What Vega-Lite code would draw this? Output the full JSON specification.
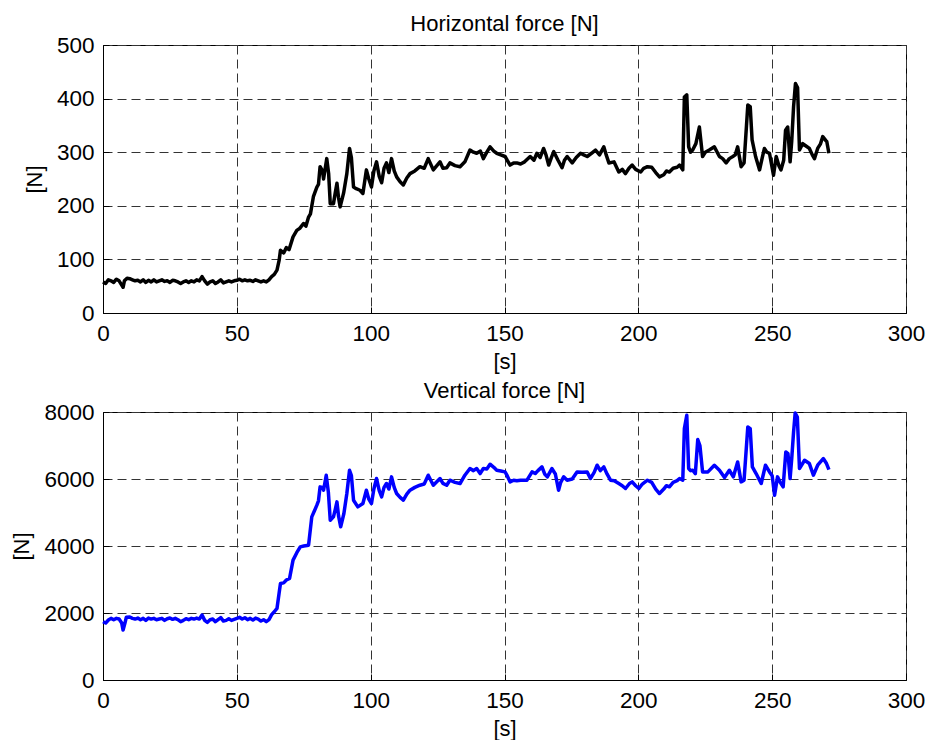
{
  "$schema": "https://vega.github.io/schema/vega-lite/v6.json",
  "background": "white",
  "padding": {"left": 10, "top": 12, "right": 0, "bottom": 0},
  "spacing": 99,
  "bounds": "flush",
  "config": {
    "font": "Liberation Sans",
    "view": {"stroke": "black", "strokeWidth": 1},
    "axis": {
      "labelFont": "Liberation Sans",
      "titleFont": "Liberation Sans",
      "labelFontSize": 22.5,
      "labelColor": "black",
      "titleFontSize": 22,
      "titleFontWeight": "normal",
      "titleColor": "black",
      "domainColor": "black",
      "tickColor": "black",
      "tickSize": -6,
      "labelPadding": 15,
      "labelFlush": false,
      "labelOverlap": false,
      "grid": true,
      "gridColor": "#333333",
      "gridDash": [9, 5],
      "gridOpacity": 1,
      "gridWidth": 1
    },
    "title": {"font": "Liberation Sans", "fontSize": 22, "fontWeight": "normal", "color": "black", "offset": -2, "anchor": "middle"}
  },
  "datasets": {
    "horizontal": [
      {"t":0,"f":58},{"t":1,"f":55},{"t":2,"f":62},{"t":3,"f":60},{"t":4,"f":57},{"t":5,"f":63},{"t":6,"f":60},{"t":7,"f":52},{"t":7.5,"f":48},{"t":8,"f":60},{"t":9,"f":65},{"t":10,"f":64},{"t":11,"f":62},{"t":12,"f":60},{"t":13,"f":61},{"t":14,"f":58},{"t":15,"f":62},{"t":16,"f":57},{"t":17,"f":61},{"t":18,"f":58},{"t":19,"f":62},{"t":20,"f":58},{"t":21,"f":60},{"t":22,"f":62},{"t":23,"f":59},{"t":24,"f":60},{"t":25,"f":57},{"t":26,"f":61},{"t":27,"f":60},{"t":28,"f":58},{"t":29,"f":55},{"t":30,"f":58},{"t":31,"f":60},{"t":32,"f":57},{"t":33,"f":60},{"t":34,"f":58},{"t":35,"f":62},{"t":36,"f":60},{"t":37,"f":68},{"t":38,"f":60},{"t":39,"f":54},{"t":40,"f":58},{"t":41,"f":60},{"t":42,"f":55},{"t":43,"f":58},{"t":44,"f":62},{"t":45,"f":56},{"t":46,"f":58},{"t":47,"f":60},{"t":48,"f":58},{"t":49,"f":60},{"t":50,"f":61},{"t":51,"f":63},{"t":52,"f":60},{"t":53,"f":62},{"t":54,"f":60},{"t":55,"f":61},{"t":56,"f":59},{"t":57,"f":62},{"t":58,"f":60},{"t":59,"f":58},{"t":60,"f":60},{"t":61,"f":58},{"t":62,"f":62},{"t":63,"f":68},{"t":64,"f":72},{"t":65,"f":80},{"t":65.8,"f":98},{"t":66.3,"f":117},{"t":67.5,"f":112},{"t":68.5,"f":122},{"t":69.5,"f":118},{"t":71,"f":142},{"t":72.4,"f":154},{"t":73.5,"f":158},{"t":74.9,"f":167},{"t":75.8,"f":162},{"t":76.8,"f":179},{"t":77.5,"f":185},{"t":78.6,"f":217},{"t":79.9,"f":235},{"t":80.5,"f":240},{"t":81.1,"f":273},{"t":82,"f":265},{"t":82.4,"f":250},{"t":83.6,"f":288},{"t":84.3,"f":260},{"t":84.9,"f":204},{"t":86.1,"f":204},{"t":86.8,"f":225},{"t":87.4,"f":242},{"t":88,"f":215},{"t":88.6,"f":198},{"t":89.9,"f":224},{"t":91.1,"f":260},{"t":92.1,"f":307},{"t":92.8,"f":290},{"t":93.6,"f":235},{"t":94.6,"f":232},{"t":96,"f":229},{"t":97.1,"f":223},{"t":98.4,"f":267},{"t":99.3,"f":250},{"t":100.3,"f":235},{"t":101.2,"f":265},{"t":102.2,"f":282},{"t":103.2,"f":255},{"t":104.1,"f":243},{"t":105,"f":270},{"t":105.9,"f":280},{"t":106.8,"f":262},{"t":107.8,"f":288},{"t":108.8,"f":265},{"t":109.7,"f":254},{"t":111,"f":245},{"t":112.2,"f":239},{"t":113.5,"f":252},{"t":114.7,"f":260},{"t":116.5,"f":265},{"t":118.4,"f":273},{"t":120,"f":270},{"t":121.5,"f":288},{"t":123.4,"f":267},{"t":125.9,"f":282},{"t":127,"f":270},{"t":128.4,"f":271},{"t":129.6,"f":280},{"t":131.5,"f":275},{"t":133.4,"f":273},{"t":135.2,"f":282},{"t":137.1,"f":304},{"t":138.4,"f":300},{"t":139.6,"f":298},{"t":141,"f":302},{"t":142.1,"f":288},{"t":143.4,"f":300},{"t":144.6,"f":310},{"t":146,"f":302},{"t":147.1,"f":298},{"t":148.6,"f":295},{"t":150.2,"f":292},{"t":151,"f":285},{"t":152.1,"f":276},{"t":153.4,"f":280},{"t":154.6,"f":280},{"t":156,"f":278},{"t":157.5,"f":282},{"t":159.6,"f":292},{"t":161,"f":285},{"t":162.1,"f":298},{"t":163.3,"f":290},{"t":164.6,"f":307},{"t":165.5,"f":295},{"t":166.5,"f":276},{"t":167.5,"f":290},{"t":168.4,"f":301},{"t":170,"f":285},{"t":171.5,"f":271},{"t":172.4,"f":285},{"t":173.4,"f":292},{"t":175.3,"f":280},{"t":176.8,"f":290},{"t":178.4,"f":298},{"t":179.6,"f":295},{"t":180.9,"f":292},{"t":182.5,"f":298},{"t":184,"f":304},{"t":185.5,"f":295},{"t":187.1,"f":310},{"t":188,"f":295},{"t":189,"f":280},{"t":190.9,"f":282},{"t":192.7,"f":263},{"t":194,"f":268},{"t":195.2,"f":260},{"t":196.5,"f":270},{"t":197.7,"f":276},{"t":199,"f":268},{"t":200.9,"f":263},{"t":202,"f":270},{"t":203.4,"f":273},{"t":205,"f":272},{"t":206.5,"f":262},{"t":207.9,"f":254},{"t":209.5,"f":258},{"t":210.5,"f":265},{"t":211.6,"f":263},{"t":213,"f":270},{"t":214.5,"f":272},{"t":215.4,"f":276},{"t":216.6,"f":267},{"t":217.2,"f":403},{"t":218.1,"f":407},{"t":218.8,"f":310},{"t":219.5,"f":300},{"t":220.3,"f":304},{"t":221.5,"f":316},{"t":222.8,"f":347},{"t":224,"f":292},{"t":225,"f":300},{"t":226.5,"f":304},{"t":228.4,"f":310},{"t":230.3,"f":292},{"t":231.5,"f":288},{"t":232.8,"f":280},{"t":234,"f":288},{"t":235.3,"f":292},{"t":236.2,"f":295},{"t":237.1,"f":310},{"t":238.4,"f":273},{"t":239.5,"f":280},{"t":240.9,"f":388},{"t":241.8,"f":385},{"t":242.5,"f":323},{"t":243.8,"f":292},{"t":245.3,"f":267},{"t":246.3,"f":290},{"t":247.1,"f":307},{"t":248,"f":300},{"t":249,"f":298},{"t":250.5,"f":257},{"t":251.5,"f":292},{"t":252.5,"f":275},{"t":253.3,"f":267},{"t":254.3,"f":285},{"t":255,"f":341},{"t":255.8,"f":347},{"t":256.7,"f":282},{"t":257.3,"f":320},{"t":258,"f":385},{"t":258.7,"f":428},{"t":259.5,"f":420},{"t":260.2,"f":304},{"t":261.4,"f":316},{"t":262.5,"f":312},{"t":263.9,"f":307},{"t":265,"f":295},{"t":265.8,"f":288},{"t":267,"f":307},{"t":268,"f":315},{"t":268.9,"f":329},{"t":270,"f":322},{"t":270.4,"f":320},{"t":271.2,"f":298}
    ],
    "vertical": [
      {"t":0,"f":1739},{"t":1,"f":1700},{"t":2,"f":1790},{"t":3,"f":1840},{"t":4,"f":1800},{"t":5,"f":1840},{"t":6,"f":1820},{"t":7,"f":1700},{"t":7.5,"f":1491},{"t":8.2,"f":1700},{"t":8.7,"f":1870},{"t":10,"f":1880},{"t":11,"f":1840},{"t":12,"f":1820},{"t":13,"f":1850},{"t":14,"f":1800},{"t":15,"f":1840},{"t":16,"f":1780},{"t":17,"f":1850},{"t":18,"f":1820},{"t":19,"f":1840},{"t":20,"f":1800},{"t":21,"f":1820},{"t":22,"f":1840},{"t":23,"f":1780},{"t":24,"f":1830},{"t":25,"f":1850},{"t":26,"f":1810},{"t":27,"f":1840},{"t":28,"f":1800},{"t":29,"f":1740},{"t":30,"f":1780},{"t":31,"f":1830},{"t":32,"f":1800},{"t":33,"f":1840},{"t":34,"f":1820},{"t":35,"f":1850},{"t":36,"f":1820},{"t":37,"f":1940},{"t":38,"f":1780},{"t":39,"f":1720},{"t":40,"f":1800},{"t":41,"f":1820},{"t":42,"f":1740},{"t":43,"f":1800},{"t":44,"f":1860},{"t":45,"f":1760},{"t":46,"f":1780},{"t":47,"f":1830},{"t":48,"f":1780},{"t":49,"f":1810},{"t":50,"f":1840},{"t":51,"f":1870},{"t":52,"f":1820},{"t":53,"f":1860},{"t":54,"f":1800},{"t":55,"f":1840},{"t":56,"f":1790},{"t":57,"f":1850},{"t":58,"f":1820},{"t":59,"f":1760},{"t":60,"f":1800},{"t":61,"f":1740},{"t":62,"f":1800},{"t":63,"f":1950},{"t":64,"f":2037},{"t":65,"f":2137},{"t":65.8,"f":2600},{"t":66.3,"f":2883},{"t":67.5,"f":2900},{"t":68.5,"f":2983},{"t":69.7,"f":3033},{"t":71,"f":3578},{"t":72.4,"f":3800},{"t":73.7,"f":3975},{"t":75,"f":4000},{"t":76.8,"f":4025},{"t":78,"f":4870},{"t":79,"f":5050},{"t":79.9,"f":5219},{"t":80.5,"f":5350},{"t":81.1,"f":5765},{"t":82,"f":5750},{"t":82.4,"f":5666},{"t":83.4,"f":6113},{"t":84.2,"f":5600},{"t":84.9,"f":4771},{"t":86.1,"f":4870},{"t":86.8,"f":5100},{"t":87.4,"f":5317},{"t":88,"f":4900},{"t":88.8,"f":4572},{"t":90,"f":4970},{"t":91.1,"f":5567},{"t":92.1,"f":6262},{"t":92.8,"f":6100},{"t":93.6,"f":5367},{"t":95.2,"f":5168},{"t":97.1,"f":5268},{"t":98.4,"f":5666},{"t":99.3,"f":5400},{"t":100.3,"f":5268},{"t":101.2,"f":5700},{"t":102.2,"f":6014},{"t":103.2,"f":5650},{"t":104.1,"f":5467},{"t":105,"f":5750},{"t":105.9,"f":5865},{"t":106.8,"f":5700},{"t":107.8,"f":6064},{"t":108.8,"f":5750},{"t":109.7,"f":5567},{"t":111,"f":5450},{"t":112.2,"f":5368},{"t":113.5,"f":5550},{"t":114.7,"f":5666},{"t":116.5,"f":5750},{"t":118.4,"f":5815},{"t":120,"f":5850},{"t":121.5,"f":6113},{"t":123.4,"f":5815},{"t":125.9,"f":6014},{"t":127,"f":5870},{"t":128.4,"f":5815},{"t":129.6,"f":5964},{"t":131.5,"f":5900},{"t":133.4,"f":5865},{"t":135.2,"f":6113},{"t":137.1,"f":6312},{"t":138.4,"f":6250},{"t":139.6,"f":6312},{"t":140.9,"f":6163},{"t":142.1,"f":6312},{"t":143.4,"f":6300},{"t":144.6,"f":6441},{"t":146,"f":6350},{"t":147.1,"f":6262},{"t":148.6,"f":6240},{"t":150.2,"f":6212},{"t":151,"f":6100},{"t":152.1,"f":5914},{"t":153.4,"f":5964},{"t":154.6,"f":5950},{"t":156,"f":5964},{"t":158.4,"f":5964},{"t":160.3,"f":6212},{"t":161.5,"f":6163},{"t":162.5,"f":6250},{"t":164,"f":6362},{"t":165,"f":6150},{"t":166,"f":6064},{"t":167.7,"f":6312},{"t":169,"f":6150},{"t":170.2,"f":5666},{"t":171,"f":5900},{"t":172.1,"f":6064},{"t":173.4,"f":5964},{"t":175.3,"f":6000},{"t":177.1,"f":6212},{"t":179,"f":6200},{"t":180.9,"f":6212},{"t":182.1,"f":6014},{"t":183.5,"f":6200},{"t":184.6,"f":6411},{"t":185.8,"f":6250},{"t":187.1,"f":6362},{"t":188.3,"f":6150},{"t":189.6,"f":5964},{"t":191,"f":5950},{"t":192.7,"f":5865},{"t":194,"f":5800},{"t":195.2,"f":5716},{"t":196.7,"f":5865},{"t":197.7,"f":5914},{"t":199,"f":5800},{"t":200.2,"f":5716},{"t":201.5,"f":5850},{"t":203.4,"f":5964},{"t":205,"f":5900},{"t":206.5,"f":5700},{"t":207.9,"f":5567},{"t":209.5,"f":5700},{"t":210.5,"f":5800},{"t":211.6,"f":5766},{"t":213,"f":5900},{"t":214.5,"f":5950},{"t":215.4,"f":6014},{"t":216.6,"f":5964},{"t":217.2,"f":7505},{"t":218.1,"f":7902},{"t":218.8,"f":6312},{"t":219.5,"f":6250},{"t":220.3,"f":6262},{"t":221.3,"f":6163},{"t":222.2,"f":7177},{"t":223,"f":7000},{"t":224,"f":6212},{"t":226,"f":6212},{"t":228.4,"f":6411},{"t":230.3,"f":6262},{"t":232.2,"f":6044},{"t":234,"f":6262},{"t":235.5,"f":6064},{"t":237.1,"f":6510},{"t":238.4,"f":5914},{"t":239.5,"f":5964},{"t":240.9,"f":7555},{"t":241.8,"f":7505},{"t":242.6,"f":6362},{"t":244,"f":6163},{"t":245.9,"f":5865},{"t":247.5,"f":6411},{"t":249,"f":6212},{"t":250,"f":6100},{"t":250.9,"f":5517},{"t":252,"f":6064},{"t":253,"f":5900},{"t":254.1,"f":5766},{"t":255.1,"f":6808},{"t":255.9,"f":6759},{"t":256.7,"f":6014},{"t":257.3,"f":6600},{"t":258,"f":7406},{"t":258.6,"f":7971},{"t":259.4,"f":7852},{"t":260.2,"f":6312},{"t":262.1,"f":6560},{"t":263.9,"f":6461},{"t":265.4,"f":6113},{"t":267,"f":6411},{"t":269.1,"f":6610},{"t":270.3,"f":6461},{"t":271.2,"f":6282}
    ]
  },
  "vconcat": [
    {
      "width": 803,
      "height": 268,
      "title": "Horizontal force [N]",
      "data": {"name": "horizontal"},
      "mark": {"type": "line", "color": "black", "strokeWidth": 3.5, "strokeJoin": "round"},
      "encoding": {
        "x": {"field": "t", "type": "quantitative", "scale": {"domain": [0, 300], "nice": false}, "axis": {"title": "[s]", "values": [0, 50, 100, 150, 200, 250, 300], "titlePadding": 7}},
        "y": {"field": "f", "type": "quantitative", "scale": {"domain": [0, 500], "nice": false}, "axis": {"title": "[N]", "values": [0, 100, 200, 300, 400, 500], "titlePadding": 10}}
      }
    },
    {
      "width": 803,
      "height": 268,
      "title": "Vertical force [N]",
      "data": {"name": "vertical"},
      "mark": {"type": "line", "color": "#0000ff", "strokeWidth": 3.5, "strokeJoin": "round"},
      "encoding": {
        "x": {"field": "t", "type": "quantitative", "scale": {"domain": [0, 300], "nice": false}, "axis": {"title": "[s]", "values": [0, 50, 100, 150, 200, 250, 300], "titlePadding": 7}},
        "y": {"field": "f", "type": "quantitative", "scale": {"domain": [0, 8000], "nice": false}, "axis": {"title": "[N]", "format": "d", "values": [0, 2000, 4000, 6000, 8000], "titlePadding": 10}}
      }
    }
  ]
}
